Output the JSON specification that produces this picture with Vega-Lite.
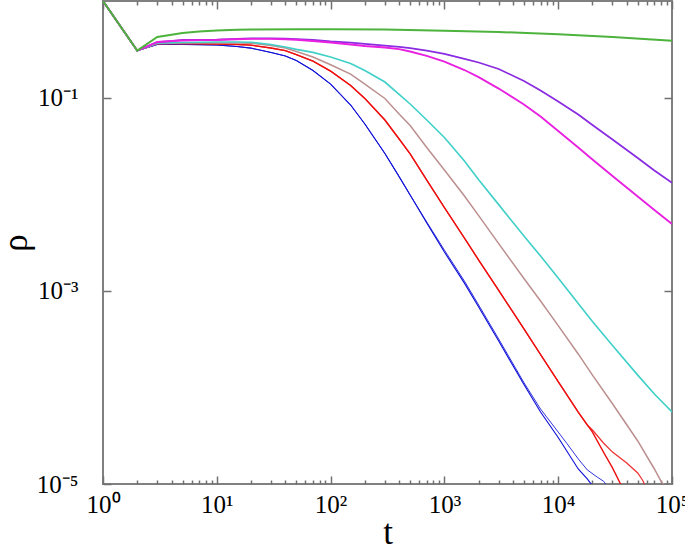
{
  "$schema": "https://vega.github.io/schema/vega-lite/v6.json",
  "width": 569,
  "height": 483,
  "autosize": "none",
  "padding": {"left": 103, "top": 1, "right": 13, "bottom": 67},
  "config": {
    "view": {"stroke": "#808080", "strokeWidth": 2},
    "font": "Liberation Serif",
    "axis": {
      "domain": false,
      "grid": false,
      "labelFont": "Liberation Serif",
      "labelFontSize": 25,
      "labelColor": "#000000",
      "titleFont": "Liberation Serif",
      "titleFontWeight": "normal",
      "titleColor": "#000000",
      "tickColor": "#707070",
      "tickWidth": 1.5,
      "labelFlush": false,
      "labelOverlap": false
    }
  },
  "datasets": {
    "curves": [
      {"s": "blue thin", "t": 1, "rho": 1},
      {"s": "blue thin", "t": 2, "rho": 0.306},
      {"s": "blue thin", "t": 3, "rho": 0.355},
      {"s": "blue thin", "t": 4, "rho": 0.356},
      {"s": "blue thin", "t": 5, "rho": 0.355},
      {"s": "blue thin", "t": 7, "rho": 0.353},
      {"s": "blue thin", "t": 10, "rho": 0.35},
      {"s": "blue thin", "t": 15, "rho": 0.338},
      {"s": "blue thin", "t": 20, "rho": 0.325},
      {"s": "blue thin", "t": 30, "rho": 0.293},
      {"s": "blue thin", "t": 40, "rho": 0.27},
      {"s": "blue thin", "t": 50, "rho": 0.242},
      {"s": "blue thin", "t": 70, "rho": 0.191},
      {"s": "blue thin", "t": 100, "rho": 0.138},
      {"s": "blue thin", "t": 150, "rho": 0.0838},
      {"s": "blue thin", "t": 200, "rho": 0.0533},
      {"s": "blue thin", "t": 300, "rho": 0.0264},
      {"s": "blue thin", "t": 400, "rho": 0.0152},
      {"s": "blue thin", "t": 500, "rho": 0.0098},
      {"s": "blue thin", "t": 700, "rho": 0.00515},
      {"s": "blue thin", "t": 1000, "rho": 0.00264},
      {"s": "blue thin", "t": 1500, "rho": 0.00126},
      {"s": "blue thin", "t": 2000, "rho": 0.000713},
      {"s": "blue thin", "t": 3000, "rho": 0.000317},
      {"s": "blue thin", "t": 5000, "rho": 0.000112},
      {"s": "blue thin", "t": 7000, "rho": 0.0000597},
      {"s": "blue thin", "t": 10000, "rho": 0.0000345},
      {"s": "blue thin", "t": 12000, "rho": 0.000026},
      {"s": "blue thin", "t": 15000, "rho": 0.0000182},
      {"s": "blue thin", "t": 18000, "rho": 0.000014},
      {"s": "blue thin", "t": 22000, "rho": 0.0000118},
      {"s": "blue thin", "t": 25000, "rho": 0.0000107},
      {"s": "blue thin", "t": 28000, "rho": 0.0000091},

      {"s": "blue", "t": 1, "rho": 1},
      {"s": "blue", "t": 2, "rho": 0.306},
      {"s": "blue", "t": 3, "rho": 0.355},
      {"s": "blue", "t": 4, "rho": 0.356},
      {"s": "blue", "t": 5, "rho": 0.355},
      {"s": "blue", "t": 7, "rho": 0.353},
      {"s": "blue", "t": 10, "rho": 0.35},
      {"s": "blue", "t": 15, "rho": 0.338},
      {"s": "blue", "t": 20, "rho": 0.325},
      {"s": "blue", "t": 30, "rho": 0.293},
      {"s": "blue", "t": 40, "rho": 0.27},
      {"s": "blue", "t": 50, "rho": 0.242},
      {"s": "blue", "t": 70, "rho": 0.191},
      {"s": "blue", "t": 100, "rho": 0.138},
      {"s": "blue", "t": 150, "rho": 0.0838},
      {"s": "blue", "t": 200, "rho": 0.0533},
      {"s": "blue", "t": 300, "rho": 0.0264},
      {"s": "blue", "t": 400, "rho": 0.0152},
      {"s": "blue", "t": 500, "rho": 0.0098},
      {"s": "blue", "t": 700, "rho": 0.00503},
      {"s": "blue", "t": 1000, "rho": 0.00252},
      {"s": "blue", "t": 1500, "rho": 0.0012},
      {"s": "blue", "t": 2000, "rho": 0.00068},
      {"s": "blue", "t": 3000, "rho": 0.000302},
      {"s": "blue", "t": 5000, "rho": 0.000107},
      {"s": "blue", "t": 7000, "rho": 0.0000556},
      {"s": "blue", "t": 10000, "rho": 0.0000303},
      {"s": "blue", "t": 15000, "rho": 0.0000143},
      {"s": "blue", "t": 18000, "rho": 0.0000113},
      {"s": "blue", "t": 20000, "rho": 0.0000096},

      {"s": "red thin", "t": 1, "rho": 1},
      {"s": "red thin", "t": 2, "rho": 0.306},
      {"s": "red thin", "t": 3, "rho": 0.363},
      {"s": "red thin", "t": 4, "rho": 0.363},
      {"s": "red thin", "t": 5, "rho": 0.363},
      {"s": "red thin", "t": 7, "rho": 0.361},
      {"s": "red thin", "t": 10, "rho": 0.359},
      {"s": "red thin", "t": 15, "rho": 0.355},
      {"s": "red thin", "t": 20, "rho": 0.349},
      {"s": "red thin", "t": 30, "rho": 0.326},
      {"s": "red thin", "t": 40, "rho": 0.306},
      {"s": "red thin", "t": 50, "rho": 0.279},
      {"s": "red thin", "t": 70, "rho": 0.239},
      {"s": "red thin", "t": 100, "rho": 0.188},
      {"s": "red thin", "t": 150, "rho": 0.1334},
      {"s": "red thin", "t": 200, "rho": 0.098},
      {"s": "red thin", "t": 300, "rho": 0.0586},
      {"s": "red thin", "t": 400, "rho": 0.0373},
      {"s": "red thin", "t": 500, "rho": 0.0261},
      {"s": "red thin", "t": 700, "rho": 0.014},
      {"s": "red thin", "t": 1000, "rho": 0.00728},
      {"s": "red thin", "t": 1500, "rho": 0.00352},
      {"s": "red thin", "t": 2000, "rho": 0.00208},
      {"s": "red thin", "t": 3000, "rho": 0.00101},
      {"s": "red thin", "t": 5000, "rho": 0.000403},
      {"s": "red thin", "t": 7000, "rho": 0.000219},
      {"s": "red thin", "t": 10000, "rho": 0.000115},
      {"s": "red thin", "t": 15000, "rho": 0.0000556},
      {"s": "red thin", "t": 18000, "rho": 0.0000408},
      {"s": "red thin", "t": 20000, "rho": 0.0000362},
      {"s": "red thin", "t": 25000, "rho": 0.0000266},
      {"s": "red thin", "t": 30000, "rho": 0.0000214},
      {"s": "red thin", "t": 40000, "rho": 0.0000165},
      {"s": "red thin", "t": 50000, "rho": 0.000013},
      {"s": "red thin", "t": 55000, "rho": 0.000011},
      {"s": "red thin", "t": 60000, "rho": 0.000009},

      {"s": "red", "t": 1, "rho": 1},
      {"s": "red", "t": 2, "rho": 0.306},
      {"s": "red", "t": 3, "rho": 0.363},
      {"s": "red", "t": 4, "rho": 0.363},
      {"s": "red", "t": 5, "rho": 0.363},
      {"s": "red", "t": 7, "rho": 0.361},
      {"s": "red", "t": 10, "rho": 0.359},
      {"s": "red", "t": 15, "rho": 0.355},
      {"s": "red", "t": 20, "rho": 0.349},
      {"s": "red", "t": 30, "rho": 0.326},
      {"s": "red", "t": 40, "rho": 0.306},
      {"s": "red", "t": 50, "rho": 0.279},
      {"s": "red", "t": 70, "rho": 0.239},
      {"s": "red", "t": 100, "rho": 0.188},
      {"s": "red", "t": 150, "rho": 0.1334},
      {"s": "red", "t": 200, "rho": 0.098},
      {"s": "red", "t": 300, "rho": 0.0586},
      {"s": "red", "t": 400, "rho": 0.0373},
      {"s": "red", "t": 500, "rho": 0.0261},
      {"s": "red", "t": 700, "rho": 0.014},
      {"s": "red", "t": 1000, "rho": 0.00728},
      {"s": "red", "t": 1500, "rho": 0.00352},
      {"s": "red", "t": 2000, "rho": 0.00208},
      {"s": "red", "t": 3000, "rho": 0.00101},
      {"s": "red", "t": 5000, "rho": 0.000403},
      {"s": "red", "t": 7000, "rho": 0.000219},
      {"s": "red", "t": 10000, "rho": 0.000115},
      {"s": "red", "t": 15000, "rho": 0.0000556},
      {"s": "red", "t": 20000, "rho": 0.0000345},
      {"s": "red", "t": 25000, "rho": 0.0000214},
      {"s": "red", "t": 30000, "rho": 0.0000147},
      {"s": "red", "t": 35000, "rho": 0.0000102},
      {"s": "red", "t": 40000, "rho": 0.0000081},

      {"s": "rosybrown", "t": 1, "rho": 1},
      {"s": "rosybrown", "t": 2, "rho": 0.306},
      {"s": "rosybrown", "t": 3, "rho": 0.363},
      {"s": "rosybrown", "t": 4, "rho": 0.366},
      {"s": "rosybrown", "t": 5, "rho": 0.367},
      {"s": "rosybrown", "t": 7, "rho": 0.367},
      {"s": "rosybrown", "t": 10, "rho": 0.367},
      {"s": "rosybrown", "t": 15, "rho": 0.367},
      {"s": "rosybrown", "t": 20, "rho": 0.365},
      {"s": "rosybrown", "t": 30, "rho": 0.346},
      {"s": "rosybrown", "t": 40, "rho": 0.326},
      {"s": "rosybrown", "t": 50, "rho": 0.3},
      {"s": "rosybrown", "t": 70, "rho": 0.263},
      {"s": "rosybrown", "t": 100, "rho": 0.219},
      {"s": "rosybrown", "t": 150, "rho": 0.175},
      {"s": "rosybrown", "t": 200, "rho": 0.138},
      {"s": "rosybrown", "t": 300, "rho": 0.098},
      {"s": "rosybrown", "t": 400, "rho": 0.0676},
      {"s": "rosybrown", "t": 500, "rho": 0.0514},
      {"s": "rosybrown", "t": 700, "rho": 0.0304},
      {"s": "rosybrown", "t": 1000, "rho": 0.0178},
      {"s": "rosybrown", "t": 1500, "rho": 0.00958},
      {"s": "rosybrown", "t": 2000, "rho": 0.006},
      {"s": "rosybrown", "t": 3000, "rho": 0.00308},
      {"s": "rosybrown", "t": 5000, "rho": 0.00134},
      {"s": "rosybrown", "t": 7000, "rho": 0.000783},
      {"s": "rosybrown", "t": 10000, "rho": 0.000436},
      {"s": "rosybrown", "t": 15000, "rho": 0.000222},
      {"s": "rosybrown", "t": 20000, "rho": 0.000134},
      {"s": "rosybrown", "t": 30000, "rho": 0.0000678},
      {"s": "rosybrown", "t": 50000, "rho": 0.0000279},
      {"s": "rosybrown", "t": 70000, "rho": 0.0000143},
      {"s": "rosybrown", "t": 80000, "rho": 0.0000107},
      {"s": "rosybrown", "t": 90000, "rho": 0.0000088},

      {"s": "cyan", "t": 1, "rho": 1},
      {"s": "cyan", "t": 2, "rho": 0.306},
      {"s": "cyan", "t": 3, "rho": 0.367},
      {"s": "cyan", "t": 4, "rho": 0.37},
      {"s": "cyan", "t": 5, "rho": 0.372},
      {"s": "cyan", "t": 7, "rho": 0.374},
      {"s": "cyan", "t": 10, "rho": 0.376},
      {"s": "cyan", "t": 15, "rho": 0.376},
      {"s": "cyan", "t": 20, "rho": 0.374},
      {"s": "cyan", "t": 30, "rho": 0.355},
      {"s": "cyan", "t": 40, "rho": 0.334},
      {"s": "cyan", "t": 50, "rho": 0.316},
      {"s": "cyan", "t": 70, "rho": 0.294},
      {"s": "cyan", "t": 100, "rho": 0.263},
      {"s": "cyan", "t": 150, "rho": 0.225},
      {"s": "cyan", "t": 200, "rho": 0.191},
      {"s": "cyan", "t": 300, "rho": 0.145},
      {"s": "cyan", "t": 400, "rho": 0.108},
      {"s": "cyan", "t": 500, "rho": 0.0859},
      {"s": "cyan", "t": 700, "rho": 0.0586},
      {"s": "cyan", "t": 1000, "rho": 0.0386},
      {"s": "cyan", "t": 1500, "rho": 0.0221},
      {"s": "cyan", "t": 2000, "rho": 0.0141},
      {"s": "cyan", "t": 3000, "rho": 0.0078},
      {"s": "cyan", "t": 5000, "rho": 0.00369},
      {"s": "cyan", "t": 7000, "rho": 0.00229},
      {"s": "cyan", "t": 10000, "rho": 0.00136},
      {"s": "cyan", "t": 15000, "rho": 0.000739},
      {"s": "cyan", "t": 20000, "rho": 0.000482},
      {"s": "cyan", "t": 30000, "rho": 0.000272},
      {"s": "cyan", "t": 50000, "rho": 0.000134},
      {"s": "cyan", "t": 70000, "rho": 0.0000855},
      {"s": "cyan", "t": 100000, "rho": 0.0000556},

      {"s": "purple", "t": 1, "rho": 1},
      {"s": "purple", "t": 2, "rho": 0.306},
      {"s": "purple", "t": 3, "rho": 0.376},
      {"s": "purple", "t": 4, "rho": 0.385},
      {"s": "purple", "t": 5, "rho": 0.395},
      {"s": "purple", "t": 7, "rho": 0.397},
      {"s": "purple", "t": 10, "rho": 0.399},
      {"s": "purple", "t": 15, "rho": 0.406},
      {"s": "purple", "t": 20, "rho": 0.41},
      {"s": "purple", "t": 30, "rho": 0.41},
      {"s": "purple", "t": 40, "rho": 0.407},
      {"s": "purple", "t": 50, "rho": 0.404},
      {"s": "purple", "t": 70, "rho": 0.395},
      {"s": "purple", "t": 100, "rho": 0.381},
      {"s": "purple", "t": 150, "rho": 0.37},
      {"s": "purple", "t": 200, "rho": 0.359},
      {"s": "purple", "t": 300, "rho": 0.346},
      {"s": "purple", "t": 400, "rho": 0.336},
      {"s": "purple", "t": 500, "rho": 0.326},
      {"s": "purple", "t": 700, "rho": 0.307},
      {"s": "purple", "t": 1000, "rho": 0.283},
      {"s": "purple", "t": 1500, "rho": 0.252},
      {"s": "purple", "t": 2000, "rho": 0.231},
      {"s": "purple", "t": 3000, "rho": 0.198},
      {"s": "purple", "t": 5000, "rho": 0.1485},
      {"s": "purple", "t": 7000, "rho": 0.1184},
      {"s": "purple", "t": 10000, "rho": 0.0912},
      {"s": "purple", "t": 15000, "rho": 0.0668},
      {"s": "purple", "t": 20000, "rho": 0.052},
      {"s": "purple", "t": 30000, "rho": 0.0368},
      {"s": "purple", "t": 50000, "rho": 0.0237},
      {"s": "purple", "t": 70000, "rho": 0.0176},
      {"s": "purple", "t": 100000, "rho": 0.0131},

      {"s": "magenta", "t": 1, "rho": 1},
      {"s": "magenta", "t": 2, "rho": 0.306},
      {"s": "magenta", "t": 3, "rho": 0.376},
      {"s": "magenta", "t": 4, "rho": 0.385},
      {"s": "magenta", "t": 5, "rho": 0.39},
      {"s": "magenta", "t": 7, "rho": 0.393},
      {"s": "magenta", "t": 10, "rho": 0.395},
      {"s": "magenta", "t": 15, "rho": 0.402},
      {"s": "magenta", "t": 20, "rho": 0.406},
      {"s": "magenta", "t": 30, "rho": 0.406},
      {"s": "magenta", "t": 40, "rho": 0.402},
      {"s": "magenta", "t": 50, "rho": 0.397},
      {"s": "magenta", "t": 70, "rho": 0.385},
      {"s": "magenta", "t": 100, "rho": 0.372},
      {"s": "magenta", "t": 150, "rho": 0.355},
      {"s": "magenta", "t": 200, "rho": 0.342},
      {"s": "magenta", "t": 300, "rho": 0.33},
      {"s": "magenta", "t": 400, "rho": 0.318},
      {"s": "magenta", "t": 500, "rho": 0.3},
      {"s": "magenta", "t": 700, "rho": 0.27},
      {"s": "magenta", "t": 1000, "rho": 0.236},
      {"s": "magenta", "t": 1500, "rho": 0.193},
      {"s": "magenta", "t": 2000, "rho": 0.163},
      {"s": "magenta", "t": 3000, "rho": 0.124},
      {"s": "magenta", "t": 5000, "rho": 0.0849},
      {"s": "magenta", "t": 7000, "rho": 0.0637},
      {"s": "magenta", "t": 10000, "rho": 0.0451},
      {"s": "magenta", "t": 15000, "rho": 0.0304},
      {"s": "magenta", "t": 20000, "rho": 0.0229},
      {"s": "magenta", "t": 30000, "rho": 0.0154},
      {"s": "magenta", "t": 50000, "rho": 0.00946},
      {"s": "magenta", "t": 70000, "rho": 0.00686},
      {"s": "magenta", "t": 100000, "rho": 0.00492},

      {"s": "green", "t": 1, "rho": 1},
      {"s": "green", "t": 2, "rho": 0.306},
      {"s": "green", "t": 3, "rho": 0.424},
      {"s": "green", "t": 4, "rho": 0.447},
      {"s": "green", "t": 5, "rho": 0.466},
      {"s": "green", "t": 7, "rho": 0.483},
      {"s": "green", "t": 10, "rho": 0.495},
      {"s": "green", "t": 15, "rho": 0.503},
      {"s": "green", "t": 20, "rho": 0.507},
      {"s": "green", "t": 50, "rho": 0.509},
      {"s": "green", "t": 100, "rho": 0.509},
      {"s": "green", "t": 300, "rho": 0.507},
      {"s": "green", "t": 1000, "rho": 0.493},
      {"s": "green", "t": 3000, "rho": 0.478},
      {"s": "green", "t": 10000, "rho": 0.452},
      {"s": "green", "t": 30000, "rho": 0.424},
      {"s": "green", "t": 100000, "rho": 0.388}
    ]
  },
  "data": {"name": "curves"},
  "layer": [
    {
      "mark": {"type": "line", "clip": true},
      "encoding": {
        "x": {
          "field": "t", "type": "quantitative",
          "scale": {"type": "log", "domain": [1, 100000], "nice": false},
          "axis": {
            "orient": "bottom",
            "values": [1, 10, 100, 1000, 10000, 100000],
            "tickSize": -8,
            "labelPadding": 16,
            "labelExpr": "['10⁰','10¹','10²','10³','10⁴','10⁵'][round(log(datum.value)/LN10)]",
            "title": "t",
            "titleFontSize": 35,
            "titlePadding": -2
          }
        },
        "y": {
          "field": "rho", "type": "quantitative",
          "scale": {"type": "log", "domain": [0.00001, 1], "nice": false},
          "axis": {
            "orient": "left",
            "values": [0.1, 0.001, 0.00001],
            "tickSize": -8,
            "labelPadding": 33,
            "labelExpr": "datum.value > 0.05 ? '10⁻¹' : datum.value > 0.0005 ? '10⁻³' : '10⁻⁵'",
            "title": "ρ",
            "titleFontSize": 35,
            "titlePadding": 3
          }
        },
        "color": {
          "field": "s", "type": "nominal", "legend": null,
          "scale": {
            "domain": ["blue thin", "blue", "red thin", "red", "rosybrown", "cyan", "purple", "magenta", "green"],
            "range": ["#3333dd", "#1010d8", "#ee3030", "#ee1010", "#bc8f8f", "#40d0c8", "#8a2be2", "#e820e0", "#4db33d"]
          }
        },
        "strokeWidth": {
          "field": "s", "type": "nominal", "legend": null,
          "scale": {
            "domain": ["blue thin", "blue", "red thin", "red", "rosybrown", "cyan", "purple", "magenta", "green"],
            "range": [1, 2, 1, 2, 1.6, 1.6, 1.6, 1.6, 1.6]
          }
        }
      }
    },
    {
      "mark": {"type": "point", "opacity": 0},
      "encoding": {
        "x": {
          "field": "t", "type": "quantitative",
          "scale": {"type": "log", "domain": [1, 100000], "nice": false},
          "axis": {
            "orient": "bottom",
            "values": [2, 3, 4, 5, 6, 7, 8, 9, 20, 30, 40, 50, 60, 70, 80, 90, 200, 300, 400, 500, 600, 700, 800, 900, 2000, 3000, 4000, 5000, 6000, 7000, 8000, 9000, 20000, 30000, 40000, 50000, 60000, 70000, 80000, 90000],
            "tickSize": -4,
            "labels": false,
            "title": null
          }
        },
        "y": {
          "field": "rho", "type": "quantitative",
          "scale": {"type": "log", "domain": [0.00001, 1], "nice": false},
          "axis": {
            "orient": "right",
            "values": [0.1, 0.001],
            "tickSize": -8,
            "labels": false,
            "title": null
          }
        }
      }
    },
    {
      "mark": {"type": "point", "opacity": 0},
      "encoding": {
        "x": {
          "field": "t", "type": "quantitative",
          "scale": {"type": "log", "domain": [1, 100000], "nice": false},
          "axis": {
            "orient": "top",
            "values": [1, 10, 100, 1000, 10000, 100000],
            "tickSize": -8,
            "labels": false,
            "title": null
          }
        },
        "y": {
          "field": "rho", "type": "quantitative",
          "scale": {"type": "log", "domain": [0.00001, 1], "nice": false},
          "axis": null
        }
      }
    },
    {
      "mark": {"type": "point", "opacity": 0},
      "encoding": {
        "x": {
          "field": "t", "type": "quantitative",
          "scale": {"type": "log", "domain": [1, 100000], "nice": false},
          "axis": {
            "orient": "top",
            "values": [2, 3, 4, 5, 6, 7, 8, 9, 20, 30, 40, 50, 60, 70, 80, 90, 200, 300, 400, 500, 600, 700, 800, 900, 2000, 3000, 4000, 5000, 6000, 7000, 8000, 9000, 20000, 30000, 40000, 50000, 60000, 70000, 80000, 90000],
            "tickSize": -4,
            "labels": false,
            "title": null
          }
        },
        "y": {
          "field": "rho", "type": "quantitative",
          "scale": {"type": "log", "domain": [0.00001, 1], "nice": false},
          "axis": null
        }
      }
    }
  ],
  "resolve": {
    "scale": {"x": "independent", "y": "independent"},
    "axis": {"x": "independent", "y": "independent"}
  }
}
